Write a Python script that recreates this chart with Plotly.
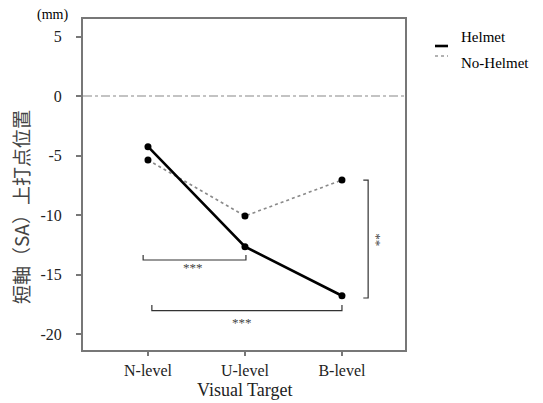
import plotly.graph_objects as go

categories = ["N-level", "U-level", "B-level"]
helmet = [-4.26, -12.66, -16.78]
no_helmet = [-5.38, -10.08, -7.06]
y_ticks = [5, 0, -5, -10, -15, -20]

SERIF = "Liberation Serif, Times New Roman, serif"
CJK = "Noto Sans CJK JP, sans-serif"

OFF = 8  # page body margin
W, H = 543 - OFF, 403 - OFF
L, R, T, B = 83, 405, 19, 350  # plot area in window pixels


def px_x(v):
    return (v - L) / (R - L)


def px_y(v):
    return (B - v) / (B - T)


fig = go.Figure()
fig.add_trace(go.Scatter(
    x=categories, y=no_helmet, mode="lines+markers", name="No-Helmet",
    line=dict(color="#8a8a8a", width=1.6, dash="dot"),
    marker=dict(color="black", size=7), showlegend=False))
fig.add_trace(go.Scatter(
    x=categories, y=helmet, mode="lines+markers", name="Helmet",
    line=dict(color="black", width=2.6),
    marker=dict(color="black", size=7), showlegend=False))

shapes = []
shapes.append(dict(type="line", xref="paper", x0=0, x1=1, yref="y", y0=0, y1=0,
                   line=dict(color="#888", width=1.2, dash="dashdot")))
br = dict(color="#333", width=1.2)
shapes.append(dict(type="path", xref="x", yref="y",
                   path="M -0.05,-13.36 L -0.05,-13.78 L 1.01,-13.78 L 1.01,-13.36", line=br))
shapes.append(dict(type="path", xref="x", yref="y",
                   path="M 0.04,-17.56 L 0.04,-18.04 L 2.0,-18.04 L 2.0,-17.56", line=br))
shapes.append(dict(type="path", xref="x", yref="y",
                   path="M 2.22,-7.06 L 2.27,-7.06 L 2.27,-16.97 L 2.22,-16.97", line=br))
shapes.append(dict(type="line", xref="paper", yref="paper", x0=px_x(435), x1=px_x(448),
                   y0=px_y(46), y1=px_y(46), line=dict(color="black", width=2.6)))
shapes.append(dict(type="line", xref="paper", yref="paper", x0=px_x(435), x1=px_x(448),
                   y0=px_y(56), y1=px_y(56), line=dict(color="#999", width=1.6, dash="dot")))

star_font = dict(family=SERIF, size=13, color="#444")


def ann(text, x, y, font, xanchor="center", textangle=0):
    return dict(text=text, x=px_x(x), y=px_y(y), xref="paper", yref="paper",
                xanchor=xanchor, yanchor="middle", showarrow=False,
                textangle=textangle, font=font)


annotations = [
    dict(text="***", x=0.46, y=-14.45, xref="x", yref="y", showarrow=False, font=star_font),
    dict(text="***", x=0.97, y=-19.0, xref="x", yref="y", showarrow=False, font=star_font),
    dict(text="**", x=2.36, y=-12.1, xref="x", yref="y", showarrow=False, textangle=90,
         font=star_font),
    ann("Helmet", 459, 37, dict(family=SERIF, size=15, color="black"), xanchor="left"),
    ann("No-Helmet", 459, 63, dict(family=SERIF, size=15, color="black"), xanchor="left"),
    ann("(mm)", 52, 15, dict(family=SERIF, size=14, color="black")),
    ann("短軸（SA）上打点位置", 21, 207, dict(family=CJK, size=19, color="#444"), textangle=-90),
    ann("Visual Target", 244, 390, dict(family=SERIF, size=18, color="#222")),
]

fig.update_layout(
    width=W, height=H,
    margin=dict(l=L - OFF, r=543 - R, t=T - OFF, b=403 - B, autoexpand=False),
    paper_bgcolor="white", plot_bgcolor="white",
    shapes=shapes, annotations=annotations,
    xaxis=dict(type="category", categoryarray=categories, range=[-0.67, 2.65],
               showline=True, mirror=True, linecolor="#777", linewidth=2,
               ticks="outside", ticklen=4, tickcolor="#777", tickwidth=1.5,
               showgrid=False, zeroline=False, ticklabelstandoff=1, automargin=False,
               tickfont=dict(family=SERIF, size=16, color="#222")),
    yaxis=dict(range=[-21.34, 6.47], tickvals=y_ticks, ticktext=[str(v) for v in y_ticks],
               showline=True, mirror=True, linecolor="#777", linewidth=2,
               ticks="outside", ticklen=5, tickcolor="#777", tickwidth=1.5,
               showgrid=False, zeroline=False, ticklabelstandoff=11, automargin=False,
               tickfont=dict(family=SERIF, size=16, color="#222")),
)

fig.write_html("out.html")
